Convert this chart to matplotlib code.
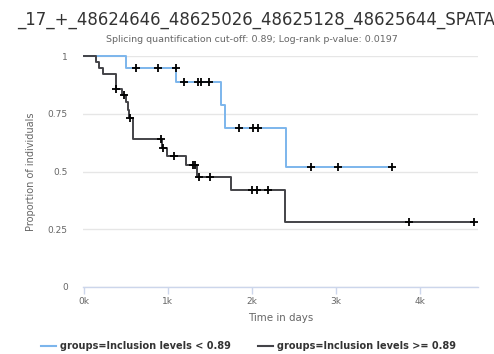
import numpy as np
import matplotlib
matplotlib.use("Agg")
import matplotlib.pyplot as plt
from matplotlib.lines import Line2D

# ------------------------------
# Kaplan-Meier curves (days, survival after each step)
low_t = [0, 500, 1100, 1633, 1680, 2410]
low_s = [1.0, 0.947, 0.886, 0.788, 0.69, 0.519]
low_end = 3673
low_cens = [615, 886, 1093, 1186, 1353, 1393, 1485, 1844, 2016, 2072, 2703, 3030, 3673]

high_t = [0, 140, 180, 228, 387, 447, 500, 520, 540, 579, 930, 986, 1214, 1345, 1756, 2391]
high_s = [1.0, 0.975, 0.948, 0.92, 0.857, 0.832, 0.80, 0.766, 0.733, 0.64, 0.602, 0.567,
          0.526, 0.478, 0.42, 0.283]
high_end = 4647
high_cens = [387, 475, 547, 918, 946, 1078, 1305, 1325, 1373, 1505, 2004, 2064, 2195, 3868, 4647]

x_ticks = [0, 1000, 2000, 3000, 4000]
x_labels = ["0k", "1k", "2k", "3k", "4k"]
y_ticks = [0, 0.25, 0.5, 0.75, 1]
y_labels = ["0", "0.25", "0.5", "0.75", "1"]

title = "_17_+_48624646_48625026_48625128_48625644_SPATA2"
subtitle = "Splicing quantification cut-off: 0.89; Log-rank p-value: 0.0197"
labels = ["groups=Inclusion levels < 0.89", "groups=Inclusion levels >= 0.89"]
colors = ["#7cb5ec", "#434348"]

W, H = 494, 354


def level_at(t, s, c):
    idx = np.searchsorted(t, c, side="right") - 1
    return np.asarray(s)[idx]


# ------------------------------
# Plot
fig = plt.figure(figsize=(W / 100, H / 100), dpi=100)
ax = fig.add_axes([83 / W, 1 - 287 / H, (478 - 83) / W, (287 - 56) / H])

groups = [(low_t, low_s, low_end, low_cens), (high_t, high_s, high_end, high_cens)]
for i, (t, s, end, cens) in enumerate(groups):
    tt = list(t) + [end]
    ss = list(s) + [s[-1]]
    ax.step(tt, ss, where="post", color=colors[i], lw=1.4, zorder=3 + i, clip_on=False)
    ax.plot(cens, level_at(t, s, cens), linestyle="none", marker="+", ms=6, mew=1.3,
            color="black", zorder=6, clip_on=False)

ax.set_xlim(-12, 4696)
ax.set_ylim(0, 1)
ax.set_xticks(x_ticks)
ax.set_xticklabels(x_labels)
ax.set_yticks(y_ticks)
ax.set_yticklabels(y_labels)

for side in ["top", "right", "left"]:
    ax.spines[side].set_visible(False)
ax.spines["bottom"].set_color("#ccd6eb")
ax.spines["bottom"].set_linewidth(1)

ax.grid(axis="y", color="#e6e6e6", lw=1)
ax.set_axisbelow(True)
ax.tick_params(axis="y", length=0, pad=11, labelsize=6.5, labelcolor="#666666")
ax.tick_params(axis="x", length=5, color="#ccd6eb", width=1, pad=2,
               labelsize=6.5, labelcolor="#666666")

ax.set_xlabel("Time in days", fontsize=7.4, color="#666666", labelpad=5)
ax.set_ylabel("Proportion of individuals", fontsize=7, color="#666666", labelpad=8)

fig.text(17 / W, 1 - 25 / H, title, fontsize=11.9, color="#333333", ha="left", va="baseline")
fig.text(252 / W, 1 - 40 / H, subtitle, fontsize=6.8, color="#666666", ha="center", va="center")

# Legend drawn by hand along the bottom
leg_y = 1 - 346 / H
for x0, x1, tx, lab, col in [(41, 56, 60, labels[0], colors[0]),
                             (258, 273, 277, labels[1], colors[1])]:
    fig.add_artist(Line2D([x0 / W, x1 / W], [leg_y, leg_y], color=col, lw=1.5,
                          transform=fig.transFigure))
    fig.text(tx / W, leg_y, lab, fontsize=7, fontweight="bold", color="#333333",
             ha="left", va="center")

fig.savefig("out.png", dpi=100)
